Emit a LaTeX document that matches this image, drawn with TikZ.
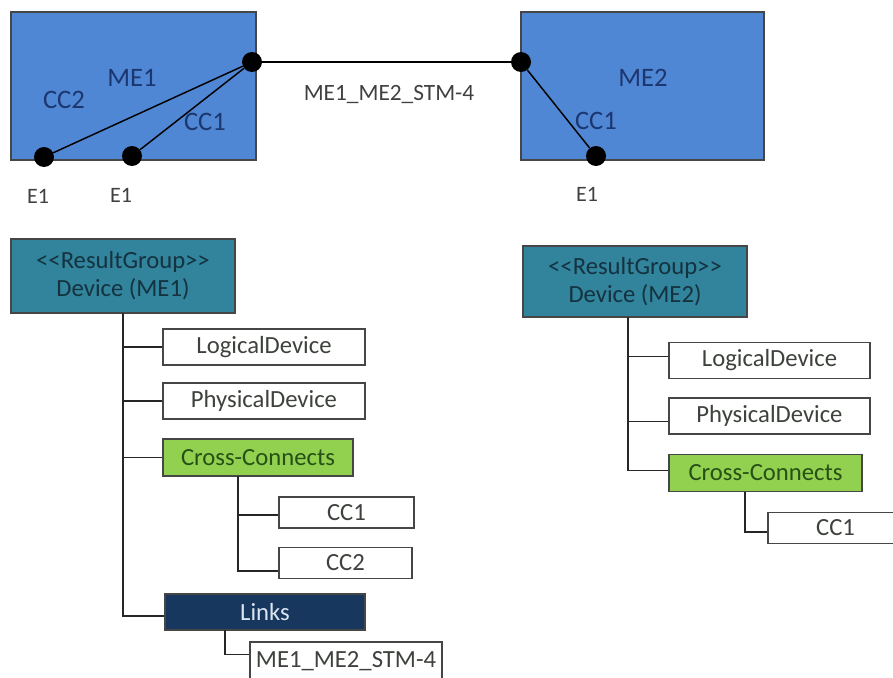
\documentclass[tikz,border=0pt]{standalone}
\usepackage{fontspec}
\setmainfont{Carlito}
\usetikzlibrary{calc}
\definecolor{meblue}{RGB}{80,135,212}
\definecolor{melabel}{RGB}{28,55,112}
\definecolor{rgteal}{RGB}{49,132,155}
\definecolor{rgtext}{RGB}{20,50,64}
\definecolor{ccgreen}{RGB}{146,208,80}
\definecolor{cctext}{RGB}{38,80,22}
\definecolor{lknavy}{RGB}{23,55,94}
\definecolor{lktext}{RGB}{220,230,242}
\definecolor{edge}{RGB}{70,70,70}
\definecolor{leaftext}{RGB}{62,66,60}
\newcommand{\resgrp}{{<}{<}ResultGroup{>}{>}}
\tikzset{
  mebox/.style={draw=edge, line width=1.1pt, fill=meblue, inner sep=0pt},
  port/.style={circle, fill=black, inner sep=0pt, minimum size=15pt},
  wire/.style={line width=1.1pt, black},
  melbl/.style={anchor=base, text=melabel, font=\fontsize{20}{22}\selectfont},
  plain/.style={anchor=base, text=black!75, font=\fontsize{16.5}{18}\selectfont},
  tbox/.style={draw=edge, line width=1.1pt, inner sep=0pt,
    font=\fontsize{18.5}{21}\selectfont},
  group/.style={tbox, fill=rgteal, text=rgtext, align=center,
    minimum width=168pt},
  leaf/.style={tbox, fill=white, text=leaftext, minimum height=27pt},
  xconn/.style={tbox, fill=ccgreen, text=cctext, minimum height=28pt},
  links/.style={tbox, fill=lknavy, text=lktext, minimum height=27pt},
  ccleaf/.style={leaf, minimum height=23pt},
  branch/.style={line width=1.1pt, black!85}
}
\begin{document}
\begin{tikzpicture}[x=0.75pt,y=-0.75pt]
  \useasboundingbox (0,0) rectangle (893,678);
  % network elements
  \node[mebox, minimum width=183.75pt, minimum height=111pt] (me1) at (133.5,86) {};
  \node[mebox, minimum width=182.25pt, minimum height=111pt] (me2) at (642.5,86) {};
  \node[melbl] (me1lbl) at (132,86) {ME1};
  \node[melbl] (me2lbl) at (643,86) {ME2};
  \node[melbl] (cc2lbl) at (64,108) {CC2};
  \node[melbl] (cc1lbl) at (205,130) {CC1};
  \node[melbl] (cc1lblb) at (596,129) {CC1};
  % ports and cross-connects
  \node[port] (p1) at (252,62) {};
  \node[port] (p2) at (521,62) {};
  \node[port] (e1a) at (44,157) {};
  \node[port] (e1b) at (132,156) {};
  \node[port] (e2) at (596,156) {};
  \draw[wire] (p1) -- (p2);
  \draw[wire] (p1) -- (e1a);
  \draw[wire] (p1) -- (e1b);
  \draw[wire] (p2) -- (e2);
  \node[plain] (e1albl) at (38,203) {E1};
  \node[plain] (e1blbl) at (121,202) {E1};
  \node[plain] (e2lbl) at (587,201) {E1};
  \node[plain, font=\fontsize{17.5}{19}\selectfont] (stmlbl) at (389,100) {ME1\_ME2\_STM-4};

  % result group ME1
  \node[group, minimum height=55.5pt] (dev1) at (123,276) {\resgrp\\Device (ME1)};
  \node[leaf, minimum width=151.5pt] (ld1) at (264,347) {LogicalDevice};
  \node[leaf, minimum width=151.5pt] (pd1) at (264,401) {PhysicalDevice};
  \node[xconn, minimum width=142.5pt] (xc1) at (258,457.5) {Cross-Connects};
  \node[ccleaf, minimum width=101.25pt] (cc1a) at (346.5,512.5) {CC1};
  \node[ccleaf, minimum width=99.75pt] (cc1b) at (345.5,563) {CC2};
  \node[links, minimum width=150pt] (lk1) at (265,612) {Links};
  \node[leaf, minimum width=144pt, minimum height=28.5pt] (stm1) at (346,661) {ME1\_ME2\_STM-4};
  \coordinate (t1) at (123,313);
  \coordinate (s1) at (238,476);
  \coordinate (u1) at (225,630);
  \draw[branch] (t1) |- (ld1.west);
  \draw[branch] (t1) |- (pd1.west);
  \draw[branch] (t1) |- (xc1.west);
  \draw[branch] (t1) |- ([yshift=-3pt]lk1.west);
  \draw[branch] (s1) |- ([yshift=-2pt]cc1a.west);
  \draw[branch] (s1) |- ([yshift=-6pt]cc1b.west);
  \draw[branch] (u1) |- ([yshift=5pt]stm1.west);

  % result group ME2
  \node[group, minimum height=53.25pt] (dev2) at (635,281.5) {\resgrp\\Device (ME2)};
  \node[leaf, minimum width=150.75pt] (ld2) at (769.5,360.5) {LogicalDevice};
  \node[leaf, minimum width=150.75pt] (pd2) at (769.5,416) {PhysicalDevice};
  \node[xconn, minimum width=144.75pt] (xc2) at (765.5,473) {Cross-Connects};
  \node[ccleaf, minimum width=101.25pt] (cc2a) at (835.5,528) {CC1};
  \coordinate (t2) at (628,317);
  \coordinate (s2) at (745,492);
  \draw[branch] (t2) |- ([yshift=3pt]ld2.west);
  \draw[branch] (t2) |- ([yshift=-4pt]pd2.west);
  \draw[branch] (t2) |- ([yshift=2pt]xc2.west);
  \draw[branch] (s2) |- ([yshift=-3pt]cc2a.west);
\end{tikzpicture}
\end{document}
